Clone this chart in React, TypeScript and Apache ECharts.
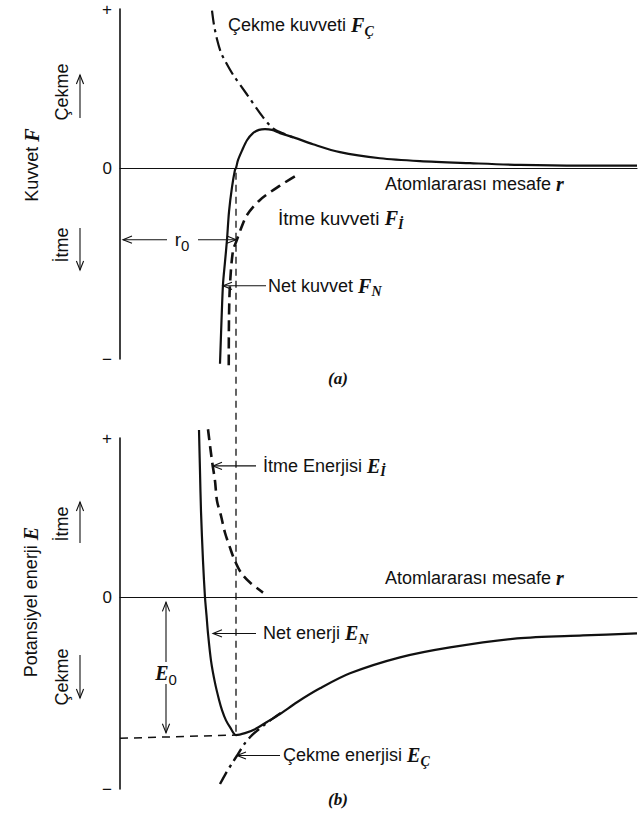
import React, { useEffect, useRef } from "react";
import * as echarts from "echarts";

// ---------- data (r: distance units, F/E: arbitrary units) ----------
// (a) force curves
const netForceR = [2.0, 2.03, 2.06, 2.1, 2.14, 2.18, 2.24, 2.3, 2.32, 2.36, 2.44, 2.54, 2.66, 2.78, 2.9, 3.04, 3.2, 3.5, 3.86, 4.4, 5.2, 6.0, 7.0, 8.0, 9.2, 10.34];
const netForceF = [-1.23, -0.96, -0.73, -0.59, -0.45, -0.275, -0.12, -0.01, 0, 0.05, 0.11, 0.175, 0.22, 0.24, 0.245, 0.24, 0.22, 0.19, 0.15, 0.1, 0.062, 0.044, 0.031, 0.02, 0.015, 0.015];
const repForceR = [2.175, 2.18, 2.2, 2.26, 2.34, 2.42, 2.54, 2.8, 3.2, 3.56];
const repForceF = [-1.24, -0.94, -0.73, -0.52, -0.45, -0.38, -0.295, -0.2, -0.11, -0.04];
const attForceR = [1.84, 1.88, 1.94, 2.02, 2.1, 2.26, 2.54, 2.86, 3.06, 3.26, 3.5];
const attForceF = [0.99, 0.9, 0.81, 0.725, 0.675, 0.5875, 0.4625, 0.32, 0.25, 0.219, 0.1875];

// (b) energy curves
const netEnergyR = [1.58, 1.6, 1.62, 1.66, 1.7, 1.73, 1.76, 1.82, 1.9, 1.98, 2.04, 2.12, 2.2, 2.32, 2.5, 2.7, 2.94, 3.2, 3.54, 4.0, 4.6, 5.6, 6.6, 7.94, 9.26, 10.34];
const netEnergyE = [1.05, 0.79, 0.54, 0.23, 0, -0.11, -0.225, -0.395, -0.535, -0.64, -0.705, -0.77, -0.812, -0.862, -0.85, -0.825, -0.78, -0.73, -0.656, -0.569, -0.475, -0.375, -0.3125, -0.256, -0.2375, -0.225];
const repEnergyR = [1.76, 1.84, 1.9, 1.94, 2.02, 2.1, 2.2, 2.28, 2.42, 2.6, 2.86];
const repEnergyE = [1.055, 0.856, 0.731, 0.606, 0.5125, 0.406, 0.3125, 0.244, 0.156, 0.094, 0.031];
const attEnergyR = [2.0, 2.12, 2.24, 2.36, 2.5, 2.64, 2.76, 2.9, 3.1, 3.3];
const attEnergyE = [-1.169, -1.1, -1.04, -0.981, -0.9125, -0.8625, -0.83, -0.795, -0.748, -0.705];

// equilibrium values
const r0 = 2.32;
const E0 = -0.862;

// axis extents and tick labels
const X_MAX = 10.34;
const Y_MIN = -1.2;
const Y_MAX = 1.0;
const tickPlus = "+";
const tickZero = "0";
const tickMinus = "−";

const SANS = '"Liberation Sans", Arial, Helvetica, sans-serif';
const SERIF = '"Liberation Serif", "Times New Roman", serif';
const INK = "#111";
const FS = 18;

const zip = (a: number[], b: number[]) => a.map((v, i) => [v, b[i]]);

const RICH: any = {
  m: { fontFamily: SERIF, fontStyle: "italic", fontWeight: "bold", fontSize: 20, fill: INK },
  s: { fontFamily: SERIF, fontStyle: "italic", fontWeight: "bold", fontSize: 14, fill: INK, padding: [12, 0, 0, 0] },
  s0: { fontFamily: SANS, fontSize: 15, fill: INK, padding: [12, 0, 0, 0] },
  rr: { fontFamily: SANS, fontSize: 19, fill: INK },
};

export default function App() {
  const ref = useRef<HTMLDivElement>(null);

  useEffect(() => {
    const chart = echarts.init(ref.current!, undefined, { renderer: "svg" });

    const yAxis = (gridIndex: number) => ({
      type: "value",
      gridIndex,
      min: Y_MIN,
      max: Y_MAX,
      interval: 0.2,
      axisLine: { show: true, onZero: false, lineStyle: { color: INK, width: 1.6 } },
      axisTick: { show: false },
      splitLine: { show: false },
      axisLabel: {
        color: INK,
        fontSize: 17,
        fontFamily: SANS,
        margin: 8,
        formatter: (v: number) =>
          Math.abs(v - Y_MAX) < 1e-6 ? tickPlus : Math.abs(v) < 1e-6 ? tickZero : Math.abs(v - Y_MIN) < 1e-6 ? tickMinus : "",
      },
    });
    const xAxis = (gridIndex: number) => ({
      type: "value",
      gridIndex,
      min: 0,
      max: X_MAX,
      axisLine: { show: true, onZero: true, lineStyle: { color: INK, width: 1.2 } },
      axisTick: { show: false },
      axisLabel: { show: false },
      splitLine: { show: false },
    });
    const curve = (gi: number, data: number[][], width: number, type: any, smooth = 0.3) => ({
      type: "line",
      xAxisIndex: gi,
      yAxisIndex: gi,
      data,
      symbol: "none",
      showSymbol: false,
      smooth,
      clip: false,
      silent: true,
      lineStyle: { color: INK, width, type, cap: "butt" },
    });

    chart.setOption({
      animation: false,
      backgroundColor: "#fff",
      grid: [
        { left: 120, right: 4, top: 9, height: 350, containLabel: false, outerBoundsMode: "none" },
        { left: 120, right: 4, top: 438, height: 351, containLabel: false, outerBoundsMode: "none" },
      ],
      xAxis: [xAxis(0), xAxis(1)],
      yAxis: [yAxis(0), yAxis(1)],
      series: [
        curve(0, zip(attForceR, attForceF), 2.2, [14, 5, 3, 5]),
        curve(0, zip(repForceR, repForceF), 2.6, [11, 6]),
        curve(0, zip(netForceR, netForceF), 2.2, "solid"),
        curve(1, zip(attEnergyR, attEnergyE), 2.4, [14, 5, 3, 5]),
        curve(1, zip(repEnergyR, repEnergyE), 2.6, [11, 6]),
        curve(1, zip(netEnergyR, netEnergyE), 2.2, "solid"),
        curve(1, [[0, E0 - 0.02], [r0, E0]], 1.5, [8, 6], 0),
      ],
    });

    const p0 = (v: number[]) => chart.convertToPixel({ gridIndex: 0 }, v) as number[];
    const p1 = (v: number[]) => chart.convertToPixel({ gridIndex: 1 }, v) as number[];

    const line = (x1: number, y1: number, x2: number, y2: number, w = 1.1, dash?: number[]) => ({
      type: "line",
      silent: true,
      shape: { x1, y1, x2, y2 },
      style: { stroke: INK, lineWidth: w, lineDash: dash, fill: "none" },
    });
    const head = (x1: number, y1: number, x2: number, y2: number, w = 1.1) => {
      const dx = x2 - x1, dy = y2 - y1, len = Math.hypot(dx, dy);
      const ux = dx / len, uy = dy / len, L = 9, W = 3.6;
      const bx = x2 - ux * L, by = y2 - uy * L;
      return {
        type: "polyline",
        silent: true,
        shape: { points: [[bx - uy * W, by + ux * W], [x2, y2], [bx + uy * W, by - ux * W]] },
        style: { stroke: INK, lineWidth: w, fill: "none" },
      };
    };
    const arrow = (x1: number, y1: number, x2: number, y2: number, w = 1.1) => [line(x1, y1, x2, y2, w), head(x1, y1, x2, y2, w)];
    const text = (x: number, y: number, t: string, align = "left", rot = 0, extra: any = {}) => ({
      type: "text",
      silent: true,
      x,
      y,
      rotation: rot,
      style: {
        text: t,
        x: 0,
        y: 0,
        fill: INK,
        fontFamily: SANS,
        fontSize: FS,
        align,
        verticalAlign: "middle",
        textAlign: align,
        textVerticalAlign: "middle",
        rich: RICH,
        ...extra,
      },
    });

    const els: any[] = [];
    // vertical dashed guide at r0 (spans both panels)
    const vTop = p0([r0, -0.03]);
    const vBot = p1([r0, E0]);
    els.push(line(vTop[0], vTop[1], vBot[0], vBot[1], 1.3, [7, 5]));

    // r0 double arrow
    const rl = p0([0.06, -0.45]);
    const rr = p0([r0, -0.45]);
    els.push(...arrow(167, rl[1], rl[0], rl[1]));
    els.push(...arrow(198, rr[1], rr[0], rr[1]));
    els.push(text(182, rl[1], "{rr|r}{s0|0}", "center"));

    // E0 double arrow
    const et = p1([0.92, -0.03]);
    const eb = p1([0.92, E0 + 0.015]);
    els.push(...arrow(et[0], 662, et[0], et[1]));
    els.push(...arrow(eb[0], 684, eb[0], eb[1]));
    els.push(text(et[0], 673, "{m|E}{s0|0}", "center"));

    // labelled arrows
    const nf = p0([2.06, -0.74]);
    els.push(...arrow(266, nf[1], nf[0], nf[1]));
    els.push(text(268, nf[1], "Net kuvvet {m|F}{s|N}"));

    const ie = p1([1.86, 0.825]);
    els.push(...arrow(256, ie[1], ie[0], ie[1]));
    els.push(text(263, ie[1], "İtme Enerjisi {m|E}{s|İ}"));

    const ne = p1([1.86, -0.225]);
    els.push(...arrow(256, ne[1], ne[0], ne[1]));
    els.push(text(263, ne[1], "Net enerji {m|E}{s|N}"));

    const ce = p1([2.34, -0.99]);
    els.push(...arrow(280, ce[1], ce[0], ce[1]));
    els.push(text(283, ce[1], "Çekme enerjisi {m|E}{s|Ç}"));

    // plain labels
    els.push(text(228, 25, "Çekme kuvveti {m|F}{s|Ç}"));
    els.push(text(278, 218, "İtme kuvveti {m|F}{s|İ}", "left", 0, { fontSize: 19 }));
    els.push(text(385, 184, "Atomlararası mesafe {m|r}"));
    els.push(text(385, 578, "Atomlararası mesafe {m|r}"));
    els.push(text(338, 378, "(a)", "center", 0, { fontFamily: SERIF, fontStyle: "italic", fontWeight: "bold", fontSize: 17 }));
    els.push(text(338, 799, "(b)", "center", 0, { fontFamily: SERIF, fontStyle: "italic", fontWeight: "bold", fontSize: 17 }));

    // rotated axis titles
    const R = Math.PI / 2;
    els.push(text(32, 165, "Kuvvet {m|F}", "center", R));
    els.push(text(62, 92, "Çekme", "center", R));
    els.push(text(62, 245, "İtme", "center", R));
    els.push(text(31, 602, "Potansiyel enerji {m|E}", "center", R));
    els.push(text(62, 524, "İtme", "center", R));
    els.push(text(62, 677, "Çekme", "center", R));

    // side direction arrows
    els.push(...arrow(80, 118, 80, 75));
    els.push(...arrow(80, 228, 80, 270));
    els.push(...arrow(80, 543, 80, 502));
    els.push(...arrow(80, 655, 80, 698));

    chart.setOption({ graphic: { elements: els } });

    return () => chart.dispose();
  }, []);

  return (
    <div
      ref={ref}
      style={{ position: "absolute", left: 0, top: 0, width: 641, height: 817, background: "#fff" }}
    />
  );
}
